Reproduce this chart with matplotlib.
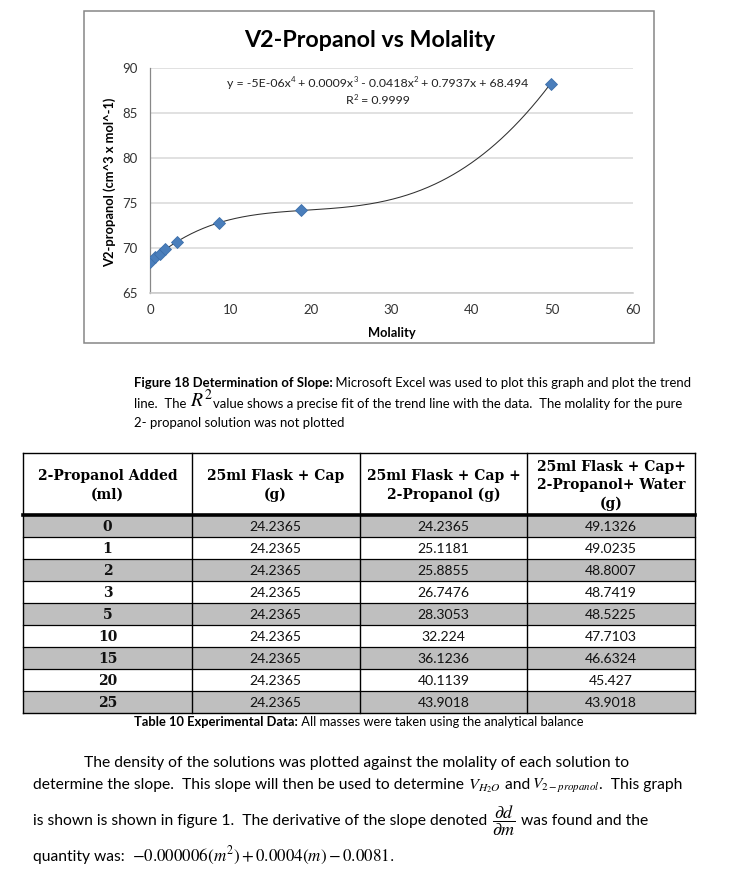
import numpy as np
import matplotlib
matplotlib.use('Agg')
import matplotlib.pyplot as plt
from matplotlib.patches import Rectangle

# ---------------- data ----------------
molality = [0.0, 0.61, 1.20, 1.90, 3.35, 8.58, 18.8, 49.8]
v_propanol = [68.45, 69.0, 69.4, 69.88, 70.7, 72.85, 74.2, 88.3]
x_ticks = [0, 10, 20, 30, 40, 50, 60]
y_ticks = [65, 70, 75, 80, 85, 90]

col_headers = ['2-Propanol Added\n(ml)', '25ml Flask + Cap\n(g)',
               '25ml Flask + Cap +\n2-Propanol (g)',
               '25ml Flask + Cap+\n2-Propanol+ Water\n(g)']
added_ml = ['0', '1', '2', '3', '5', '10', '15', '20', '25']
flask_cap = ['24.2365', '24.2365', '24.2365', '24.2365', '24.2365',
             '24.2365', '24.2365', '24.2365', '24.2365']
flask_cap_prop = ['24.2365', '25.1181', '25.8855', '26.7476', '28.3053',
                  '32.224', '36.1236', '40.1139', '43.9018']
flask_cap_prop_water = ['49.1326', '49.0235', '48.8007', '48.7419', '48.5225',
                        '47.7103', '46.6324', '45.427', '43.9018']

# ---------------- setup ----------------
plt.rcParams['mathtext.fontset'] = 'stix'
SANS = ['Lato', 'DejaVu Sans']
SERIF = ['DejaVu Serif']
W, H = 732, 884
fig = plt.figure(figsize=(W / 100, H / 100), dpi=100)
fig.patch.set_facecolor('white')
R = fig.canvas.get_renderer()


def fx(x):
    return x / W


def fy(y):
    return 1 - y / H


def text_width(s, fs, kw):
    t = fig.text(0, 0, s, fontsize=fs, **kw)
    w = t.get_window_extent(R).width
    t.remove()
    return w


def fit_fs(s, kw, target, fs0=10.0):
    return fs0 * target / text_width(s, fs0, kw)


REG = dict(family=SANS)
BOLD = dict(family=SANS, weight='bold')
MATH = dict()


def runs_total(runs, f):
    tot = 0
    for run in runs:
        s, kw, rel = run[:3]
        if s == '__gap__':
            tot += rel * f * 100 / 72
        else:
            tot += text_width(s, f * rel, kw)
    return tot


def draw_runs(x, y, runs, fs, target=None, color='black', center=False):
    """runs: list of (string, kw, rel[, raise_px]); string '__gap__' -> rel = gap in em"""
    if target is not None:
        fs = fs * target / runs_total(runs, fs)
    if center:
        x = x - runs_total(runs, fs) / 2
    cur = x
    for run in runs:
        s, kw, rel = run[:3]
        dy = run[3] if len(run) > 3 else 0
        if s == '__gap__':
            cur += rel * fs * 100 / 72
            continue
        t = fig.text(fx(cur), fy(y - dy), s, fontsize=fs * rel, ha='left',
                     va='baseline', color=color, **kw)
        cur += t.get_window_extent(R).width
    return fs


# overlay axes in pixel coordinates (for borders / table)
ov = fig.add_axes([0, 0, 1, 1])
ov.set_xlim(0, W)
ov.set_ylim(H, 0)
ov.axis('off')
ov.patch.set_visible(False)

# ---------------- chart ----------------
ov.add_patch(Rectangle((84, 10.7), 654.3 - 84, 343 - 10.7, fill=False,
                       edgecolor='#868686', lw=1.1))

ax = fig.add_axes([fx(150), fy(293.3), (632.7 - 150) / W, (293.3 - 68.3) / H])
ax.set_xlim(0, 60)
ax.set_ylim(65, 90)
ax.set_xticks(x_ticks)
ax.set_yticks(y_ticks)
ax.yaxis.grid(True, color='#D9D9D9', lw=1.1)
ax.set_axisbelow(True)
for s in ['top', 'right']:
    ax.spines[s].set_visible(False)
ax.spines['left'].set_color('#888888')
ax.spines['left'].set_linewidth(0.9)
ax.spines['bottom'].set_color('#C8C8C8')
ax.spines['bottom'].set_linewidth(1.1)
ax.tick_params(length=0, labelsize=9.5, labelcolor='#333333')
ax.tick_params(axis='y', pad=9)
ax.tick_params(axis='x', pad=8)
for lab in ax.get_xticklabels() + ax.get_yticklabels():
    lab.set_family(SANS)

coef = np.polyfit(molality, v_propanol, 4)
xs = np.linspace(0, max(molality), 400)
ax.plot(xs, np.polyval(coef, xs), color='#303030', lw=0.75, zorder=2)
ax.plot(molality, v_propanol, linestyle='none', marker='D', markersize=6.0,
        color='#4A7EBB', markeredgecolor='#3D6FAA', markeredgewidth=0.6, zorder=3)

title = 'V2-Propanol vs Molality'
fs_t = fit_fs(title, BOLD, 251)
fig.text(fx(370), fy(46.7), title, fontsize=fs_t, ha='center', va='baseline', **BOLD)

SUP = 0.62
eq_runs = [('y = -5E-06x', REG, 1.0), ('4', REG, SUP, 4.5),
           (' + 0.0009x', REG, 1.0), ('3', REG, SUP, 4.5),
           (' - 0.0418x', REG, 1.0), ('2', REG, SUP, 4.5),
           (' + 0.7937x + 68.494', REG, 1.0)]
fs_e = draw_runs(377.7, 87, eq_runs, 9.0, target=305, color='#222222', center=True)
draw_runs(378, 104, [('R', REG, 1.0), ('2', REG, SUP, 4.5), (' = 0.9999', REG, 1.0)],
          fs_e, color='#222222', center=True)

ylab = 'V2-propanol (cm^3 x mol^-1)'
fs_y = fit_fs(ylab, BOLD, 169)
fig.text(fx(110), fy(182.5), ylab, fontsize=fs_y, rotation=90, ha='center', va='center', **BOLD)
fig.text(fx(392), fy(337), 'Molality', fontsize=fs_y, ha='center', va='baseline', **BOLD)

# ---------------- figure caption ----------------
fs_c = draw_runs(133.5, 387, [('Figure 18 Determination of Slope:', BOLD, 1.0),
                              (' Microsoft Excel was used to plot this graph and plot the trend', REG, 1.0)],
                 9.0, target=690 - 133.5)
draw_runs(133.5, 407.5, [('line.  The', REG, 1.0), ('__gap__', None, 0.3),
                         ('$R^2$', MATH, 1.5),
                         ('value shows a precise fit of the trend line with the data.  The molality for the pure', REG, 1.0)],
          fs_c)
draw_runs(133.5, 427, [('2- propanol solution was not plotted', REG, 1.0)], fs_c)

# ---------------- table ----------------
col_edges = [23.3, 191.7, 359.5, 527.3, 695]
t_top, h_bot, row_h = 453.3, 515.0, 22.0
n = len(added_ml)
t_bot = h_bot + n * row_h
for i in range(n):
    if i % 2 == 0:
        ov.add_patch(Rectangle((col_edges[0], h_bot + i * row_h), col_edges[-1] - col_edges[0],
                               row_h, facecolor='#BFBFBF', edgecolor='none', zorder=0))
for i in range(1, n):
    yy = h_bot + i * row_h
    ov.plot([col_edges[0], col_edges[-1]], [yy, yy], color='black', lw=0.9, zorder=1)
for xe in col_edges:
    ov.plot([xe, xe], [t_top, t_bot], color='black', lw=1.0, zorder=1)
ov.plot([col_edges[0], col_edges[-1]], [t_top, t_top], color='black', lw=1.0, zorder=1)
ov.plot([col_edges[0], col_edges[-1]], [t_bot, t_bot], color='black', lw=1.0, zorder=1)
ov.plot([col_edges[0], col_edges[-1]], [h_bot, h_bot], color='black', lw=2.6, zorder=1)

HB = dict(family=SERIF, weight='bold')
fs_h = fit_fs('2-Propanol Added', HB, 140)
for j, hdr in enumerate(col_headers):
    cx = (col_edges[j] + col_edges[j + 1]) / 2
    fig.text(fx(cx), fy((t_top + h_bot) / 2 + 1), hdr, fontsize=fs_h, ha='center', va='center',
             linespacing=1.38, **HB)

fs_n = fit_fs('49.1326', REG, 52)
cols = [added_ml, flask_cap, flask_cap_prop, flask_cap_prop_water]
for i in range(n):
    yb = h_bot + i * row_h + row_h / 2 + 5.3
    for j, col in enumerate(cols):
        cx = (col_edges[j] + col_edges[j + 1]) / 2
        kw = HB if j == 0 else REG
        fig.text(fx(cx), fy(yb), col[i], fontsize=fs_h if j == 0 else fs_n,
                 ha='center', va='baseline', color='#111111', **kw)

draw_runs(134, 726, [('Table 10 Experimental Data:', BOLD, 1.0),
                     (' All masses were taken using the analytical balance', REG, 1.0)],
          8.0, target=588 - 134)

# ---------------- paragraph ----------------
fs_p = draw_runs(84, 766.5, [('The density of the solutions was plotted against the molality of each solution to', REG, 1.0)],
                 10.0, target=629 - 84)
draw_runs(33, 789, [('determine the slope.  This slope will then be used to determine', REG, 1.0),
                    ('__gap__', None, 0.25), (r'$V_{H_2O}$', MATH, 1.05),
                    (' and', REG, 1.0), ('__gap__', None, 0.1),
                    (r'$V_{2-propanol}$', MATH, 1.0), ('.  This graph', REG, 1.0)], fs_p)
draw_runs(33, 825, [('is shown is shown in figure 1.  The derivative of the slope denoted', REG, 1.0),
                    ('__gap__', None, 0.3), (r'$\dfrac{\partial d}{\partial m}$', MATH, 1.15),
                    ('__gap__', None, 0.1),
                    (' was found and the', REG, 1.0)], fs_p)
draw_runs(33, 861.5, [('quantity was:', REG, 1.0), ('__gap__', None, 0.5),
                      (r'$-0.000006\left(m^2\right)+0.0004\left(m\right)-0.0081.$', MATH, 1.09)], fs_p)

fig.savefig('out.png', dpi=100, facecolor='white')
